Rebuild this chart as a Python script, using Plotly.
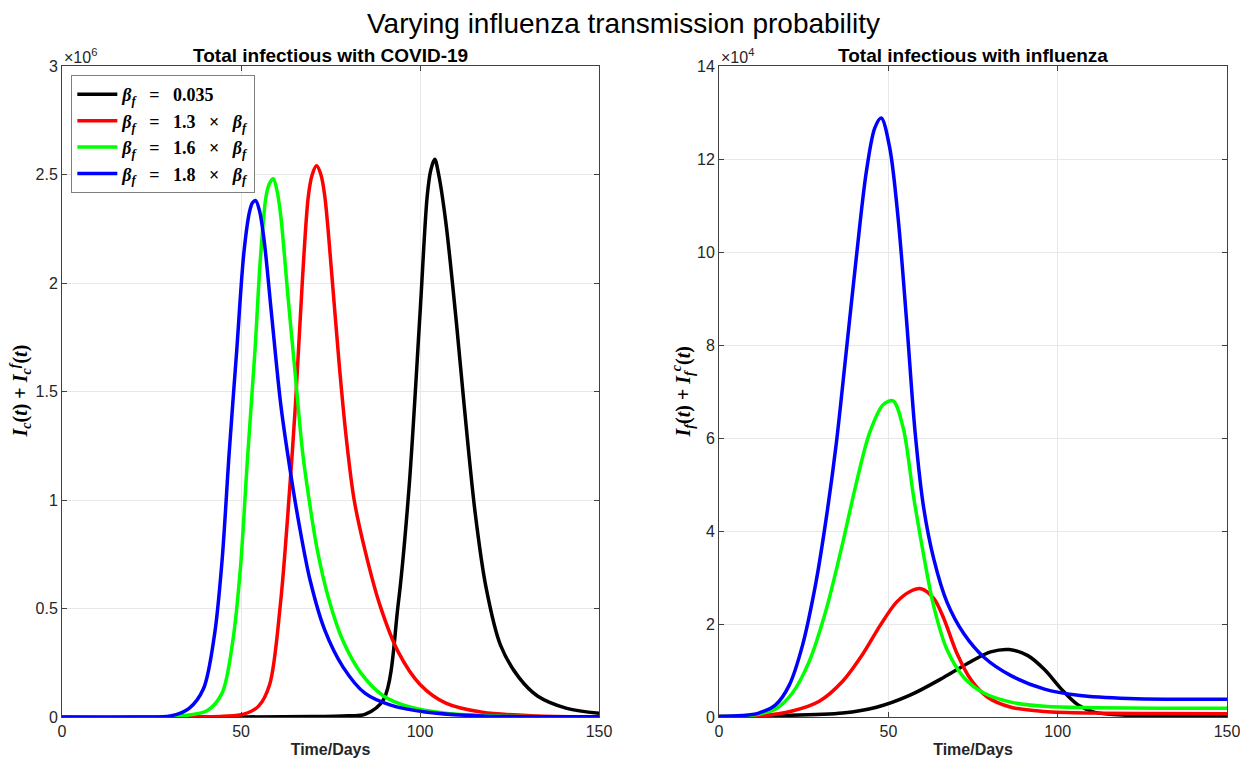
import plotly.graph_objects as go
from plotly.subplots import make_subplots

# ---- data (left values in 1e6, right values in 1e4) ----
SP = "&nbsp;&nbsp;&nbsp;"
legend_labels = [
    f"<b><i>β<sub>f</sub></i>{SP}={SP}0.035</b>",
    f"<b><i>β<sub>f</sub></i>{SP}={SP}1.3{SP}×{SP}<i>β<sub>f</sub></i></b>",
    f"<b><i>β<sub>f</sub></i>{SP}={SP}1.6{SP}×{SP}<i>β<sub>f</sub></i></b>",
    f"<b><i>β<sub>f</sub></i>{SP}={SP}1.8{SP}×{SP}<i>β<sub>f</sub></i></b>",
]
colors = ["#000000", "#ff0000", "#00ff00", "#0000ff"]

# COVID-19 (x 1e6)
covid_black_t = [0, 40, 70, 80, 84.6, 89.8, 93.9, 96.9, 100, 102, 103, 104.1, 105.2, 107.2,
                 110.2, 112.3, 115.4, 118.4, 122.5, 127.7, 132.8, 141, 150]
covid_black_v = [0, 0, 0.002, 0.006, 0.012, 0.08, 0.52, 1.05, 1.86, 2.4, 2.52, 2.57, 2.5, 2.28,
                 1.81, 1.44, 0.94, 0.6, 0.33, 0.18, 0.097, 0.04, 0.017]

covid_red_t = [0, 30, 45, 50.8, 54.9, 58, 61, 63.1, 65.2, 67.2, 68.8, 69.9, 71.1, 72.3, 73.4,
               75.4, 77.5, 79.5, 81.6, 84.6, 88.7, 93.9, 100, 107.2, 117.4, 132.8, 150]
covid_red_v = [0, 0, 0.004, 0.013, 0.05, 0.15, 0.52, 0.94, 1.44, 2.03, 2.4, 2.5, 2.54, 2.5, 2.4,
               2.03, 1.61, 1.27, 1.0, 0.77, 0.52, 0.30, 0.15, 0.064, 0.022, 0.005, 0.001]

covid_green_t = [0, 20, 33.4, 40.6, 44.7, 47.7, 49.8, 51.8, 53.9, 55.4, 57, 58, 59, 60, 61.1,
                 63.1, 65.2, 67.2, 69.3, 71.3, 74.4, 78.5, 83.6, 89.8, 96.9, 107.2, 123, 150]
covid_green_v = [0, 0, 0.005, 0.03, 0.11, 0.35, 0.68, 1.19, 1.69, 2.11, 2.4, 2.46, 2.48, 2.43,
                 2.31, 1.94, 1.57, 1.22, 0.97, 0.77, 0.55, 0.35, 0.2, 0.097, 0.047, 0.017,
                 0.004, 0.001]

covid_blue_t = [0, 20, 30.3, 35.5, 39.5, 42.6, 44.7, 46.7, 48.8, 50.8, 52.4, 53.2, 54.1, 55.2,
                56.5, 58.5, 61.1, 63.6, 66.2, 69.3, 73.4, 78.5, 84.6, 91.8, 102, 117, 150]
covid_blue_v = [0, 0, 0.005, 0.04, 0.13, 0.38, 0.72, 1.22, 1.69, 2.14, 2.33, 2.37, 2.38, 2.33,
                2.19, 1.86, 1.44, 1.15, 0.89, 0.63, 0.4, 0.23, 0.11, 0.055, 0.022, 0.005,
                0.001]

# Influenza (x 1e4)
flu_black_t = [0, 16.7, 36.5, 46.5, 56.4, 66.3, 74.3, 80.2, 85.7, 91.2, 96.1, 101.1, 106,
               111, 121, 135, 150]
flu_black_v = [0.01, 0.03, 0.085, 0.21, 0.47, 0.85, 1.19, 1.4, 1.45, 1.32, 1.02, 0.6, 0.26,
               0.1, 0.034, 0.015, 0.01]

flu_red_t = [0, 11.7, 21.6, 29.6, 36.5, 42.5, 47.5, 52.4, 56.4, 59.6, 63.4, 66.3, 70.3,
             74.3, 79.2, 86.2, 96.1, 111, 130, 150]
flu_red_v = [0.01, 0.02, 0.13, 0.34, 0.77, 1.36, 1.96, 2.47, 2.7, 2.76, 2.55, 2.13, 1.36,
             0.81, 0.43, 0.21, 0.12, 0.085, 0.075, 0.07]

flu_green_t = [0, 6.8, 11.7, 16.7, 21.6, 26.6, 31.6, 36.5, 40.5, 44.5, 48.5, 51.4, 54.4,
               57.4, 60.4, 63.4, 67.3, 72.3, 78.3, 86.2, 96.1, 111, 130, 150]
flu_green_v = [0.01, 0.02, 0.06, 0.17, 0.51, 1.19, 2.3, 3.74, 5.02, 6.12, 6.72, 6.8, 6.21,
               4.76, 3.49, 2.38, 1.45, 0.85, 0.51, 0.32, 0.23, 0.2, 0.19, 0.19]

flu_blue_t = [0, 6.8, 11.7, 16.7, 20.7, 24.6, 28.6, 31.6, 34.6, 37.5, 40.5, 43.5, 46, 47.9,
              50.4, 52.9, 55.4, 57.9, 60.4, 63.4, 67.3, 72.3, 78.3, 86.2, 96.1, 106, 121, 150]
flu_blue_v = [0.01, 0.03, 0.085, 0.26, 0.68, 1.53, 2.89, 4.25, 5.87, 7.82, 9.86, 11.73, 12.67,
              12.88, 12.24, 10.71, 8.5, 6.12, 4.51, 3.4, 2.47, 1.79, 1.28, 0.89, 0.6, 0.47,
              0.4, 0.38]

covid_series = [(covid_black_t, covid_black_v), (covid_red_t, covid_red_v),
                (covid_green_t, covid_green_v), (covid_blue_t, covid_blue_v)]
flu_series = [(flu_black_t, flu_black_v), (flu_red_t, flu_red_v),
              (flu_green_t, flu_green_v), (flu_blue_t, flu_blue_v)]

x_ticks = [0, 50, 100, 150]
covid_y_ticks = [0, 0.5, 1, 1.5, 2, 2.5, 3]
flu_y_ticks = [0, 2, 4, 6, 8, 10, 12, 14]

SANS = "Liberation Sans, Arial, sans-serif"
SERIF = "Liberation Serif, Times New Roman, serif"

fig = make_subplots(rows=1, cols=2)

for (t, v), c, name in zip(covid_series, colors, legend_labels):
    fig.add_trace(
        go.Scatter(x=t, y=v, mode="lines", name=name,
                   line=dict(color=c, width=3.5, shape="spline", smoothing=0.9)),
        row=1, col=1,
    )

for (t, v), c, name in zip(flu_series, colors, legend_labels):
    fig.add_trace(
        go.Scatter(x=t, y=v, mode="lines", name=name, showlegend=False,
                   line=dict(color=c, width=3.5, shape="spline", smoothing=0.9)),
        row=1, col=2,
    )

axis_common = dict(
    showline=True, linecolor="#404040", linewidth=1, mirror="ticks",
    ticks="inside", ticklen=5, tickcolor="#404040",
    showgrid=True, gridcolor="#e8e8e8", gridwidth=1, zeroline=False,
    tickfont=dict(family=SANS, size=16, color="#262626"), automargin=False,
    ticklabeloverflow="allow",
)

fig.update_xaxes(axis_common)
fig.update_yaxes(axis_common)

fig.update_xaxes(range=[0, 150], tickvals=x_ticks,
                 title=dict(text="<b>Time/Days</b>", font=dict(family=SANS, size=16, color="#262626"),
                            standoff=4))
fig.update_yaxes(range=[0, 3], tickvals=covid_y_ticks, row=1, col=1)
fig.update_yaxes(range=[0, 14], tickvals=flu_y_ticks, row=1, col=2)

fig.update_layout(xaxis=dict(domain=[0, 0.461]), xaxis2=dict(domain=[0.564, 1]))

annotations = [
    dict(text="Varying influenza transmission probability", xref="paper", yref="paper",
         x=0.482, y=1, xanchor="center", yanchor="bottom", yshift=25, showarrow=False,
         font=dict(family=SANS, size=28, color="#000000")),
    dict(text="<b>Total infectious with COVID-19</b>", xref="paper", yref="paper",
         x=0.2305, y=1, xanchor="center", yanchor="bottom", yshift=-2, showarrow=False,
         font=dict(family=SANS, size=19, color="#000000")),
    dict(text="<b>Total infectious with influenza</b>", xref="paper", yref="paper",
         x=0.782, y=1, xanchor="center", yanchor="bottom", yshift=-2, showarrow=False,
         font=dict(family=SANS, size=19, color="#000000")),
    dict(text="×10<sup>6</sup>", xref="paper", yref="paper", x=0.0, y=1,
         xanchor="left", yanchor="bottom", yshift=-2, showarrow=False,
         font=dict(family=SANS, size=16, color="#262626")),
    dict(text="×10<sup>4</sup>", xref="paper", yref="paper", x=0.564, y=1,
         xanchor="left", yanchor="bottom", yshift=-2, showarrow=False,
         font=dict(family=SANS, size=16, color="#262626")),
    dict(text="<b><i>I<sub>c</sub></i>(<i>t</i>) + <i>I<sub>c</sub><sup>f</sup></i>(<i>t</i>)</b>",
         xref="paper", yref="paper", x=-0.036, y=0.5, textangle=-90,
         xanchor="center", yanchor="middle", showarrow=False,
         font=dict(family=SERIF, size=20, color="#000000")),
    dict(text="<b><i>I<sub>f</sub></i>(<i>t</i>) + <i>I<sub>f</sub><sup>c</sup></i>(<i>t</i>)</b>",
         xref="paper", yref="paper", x=0.533, y=0.5, textangle=-90,
         xanchor="center", yanchor="middle", showarrow=False,
         font=dict(family=SERIF, size=20, color="#000000")),
]

# page body keeps an 8px margin, so the figure is sized to fit inside 1248x773
fig.update_layout(
    width=1236, height=757,
    annotations=annotations,
    legend=dict(x=0.008, y=0.986, xanchor="left", yanchor="top",
                bgcolor="#ffffff", bordercolor="#7f7f7f", borderwidth=1,
                font=dict(family=SERIF, size=18, color="#000000"),
                itemwidth=40, tracegroupgap=0),
    plot_bgcolor="#ffffff", paper_bgcolor="#ffffff",
    margin=dict(l=54, r=17, t=58, b=48),
)

fig.write_html("out.html")
